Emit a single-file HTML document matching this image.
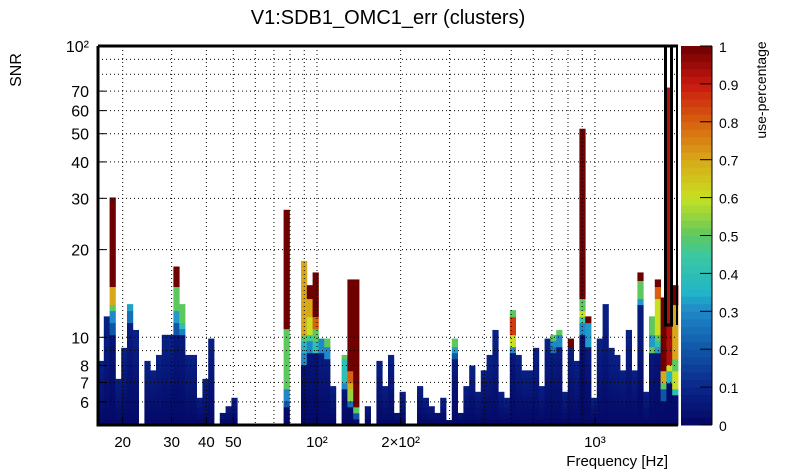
<!DOCTYPE html>
<html><head><meta charset="utf-8">
<style>
html,body{margin:0;padding:0;background:#fff;}
svg{display:block;font-family:"Liberation Sans",sans-serif;}
</style></head>
<body>
<svg id="chart" width="805" height="472" viewBox="0 0 805 472"></svg>
<script>
// ---- data ----
const nFreqBins = 100;
const freqMin = 16.3, freqMax = 1990;
const snrMin = 5, snrMax = 100, nSnrBins = 63;
// max SNR reached per frequency bin (0 = empty)
const columnTops = [8.3,11.8,30.2,7.2,9.2,13,10.6,0,8.3,7.7,8.7,10.2,10.2,17.5,13,8.7,8.7,6.2,7.2,9.9,
0,5.5,5.8,6.2,0,0,0,0,0,0,0,0,27.4,0,0,18.3,15.1,16.7,9.9,9.9,
6.8,0,8.7,15.8,15.8,0,5.8,0,8.3,6.8,8.7,5.5,6.5,0,0,6.8,6.2,5.8,5.5,6.2,
5.2,9.9,5.5,6.8,8.0,6.5,7.7,8.7,10.6,6.5,6.2,12.4,8.7,7.7,7.7,9.2,6.8,9.9,10.2,10.6,
6.5,9.9,8.3,52,11.8,6.2,9.9,13,9.2,8.7,7.7,10.6,7.7,16.7,6.5,11.8,15.8,13.7,72,15.1];
// high use-percentage segments: [bin, snrLow, snrHigh, value]
const segments = [
[2,15.1,30.2,1],[2,13,15.1,0.7],[2,12.4,13,0.5],[2,11.2,12.4,0.3],[2,10,11.2,0.2],
[5,12.2,13,0.33],[5,11,12.2,0.25],
[13,15.1,17.5,1],[13,12.4,15.1,0.5],[13,11.2,12.4,0.32],[13,10,11.2,0.2],
[14,11.2,13,0.5],[14,10.6,11.2,0.4],[14,10,10.6,0.28],
[32,10.6,27.4,1],[32,6.5,10.6,0.5],[32,6.1,6.5,0.3],[32,5.8,6.1,0.2],
[35,10.2,18.3,0.7],[35,9.6,10.2,0.5],[35,8.7,9.6,0.35],[35,8,8.7,0.3],
[36,13.7,15.1,1],[36,11.8,13.7,0.7],[36,10.2,11.8,0.6],[36,9.6,10.2,0.45],[36,8.7,9.6,0.3],
[37,11.8,16.7,1],[37,10.6,11.8,0.8],[37,9.6,10.6,0.5],[37,8.7,9.6,0.4],
[38,8.7,9.9,0.3],
[39,9.4,9.9,0.5],[39,8.3,9.4,0.3],
[42,8.3,8.7,0.5],[42,7,8.3,0.4],[42,6.5,7,0.3],
[43,7.5,15.8,1],[43,6.9,7.5,0.8],[43,6.5,6.9,0.7],[43,6.1,6.5,0.55],[43,5.8,6.1,0.25],
[44,5.9,15.8,1],[44,5.5,5.9,0.5],[44,5.2,5.5,0.2],
[61,9.4,9.9,0.5],[61,9.0,9.4,0.33],[61,8.3,9.0,0.2],
[71,12.0,12.4,0.5],[71,10.4,12.0,0.85],[71,10.0,10.4,0.7],[71,9.4,10.0,0.6],[71,9.0,9.4,0.3],
[78,9.9,10.2,0.5],[78,9.4,9.9,0.3],[78,8.7,9.4,0.25],
[79,10.2,10.6,0.5],[79,9.4,10.2,0.3],
[81,9.4,9.9,1],
[83,13.7,52,1],[83,12.4,13.7,0.5],[83,11.8,12.4,0.6],[83,11.2,11.8,0.45],[83,10,11.2,0.3],
[84,11.2,11.8,1],[84,9.4,11.2,0.32],
[93,15.8,16.7,1],[93,13.7,15.8,0.5],[93,13,13.7,0.32],
[95,10,11.8,0.5],[95,9.4,10,0.32],[95,8.7,9.4,0.5],
[96,15.1,15.8,1],[96,13.7,15.1,0.8],[96,10.4,13.7,0.6],[96,9.9,10.4,0.5],[96,9.4,9.9,0.4],[96,8.7,9.4,0.32],
[97,7.5,13.7,1],[97,7.1,7.5,0.7],[97,6.5,7.1,0.5],[97,6.1,6.5,0.2],
[98,8,72,0.93],[98,7.5,8,0.6],[98,7,7.5,0.35],
[99,13,15.1,1],[99,8.3,13,0.7],[99,7.5,8.3,0.5],[99,6.8,7.5,0.6],[99,6.3,6.8,0.4]
];
const xTickVals = [20,30,40,50,100,200,1000];
const xTickLabels = ["20","30","40","50","10²","2×10²","10³"];
const yTickVals = [6,7,8,10,20,30,40,50,60,70,100];
const yTickLabels = ["6","7","8","10","20","30","40","50","60","70","10²"];
const zTickVals = [0,0.1,0.2,0.3,0.4,0.5,0.6,0.7,0.8,0.9,1];

// ---- layout ----
const L=98,R=678,T=46,B=425;
const svg=document.getElementById('chart');
const NS='http://www.w3.org/2000/svg';
function el(tag,attrs,parent){const e=document.createElementNS(NS,tag);for(const k in attrs)e.setAttribute(k,attrs[k]);(parent||svg).appendChild(e);return e;}
const lx0=Math.log10(freqMin),lx1=Math.log10(freqMax);
function xScale(f){return L+(Math.log10(f)-lx0)/(lx1-lx0)*(R-L);}
function yScale(s){return B-(Math.log10(s)-Math.log10(snrMin))/(Math.log10(snrMax)-Math.log10(snrMin))*(B-T);}
const stops=[[0,[3,6,100]],[0.1,[10,38,138]],[0.2,[15,86,168]],[0.3,[30,136,200]],[0.35,[34,180,200]],[0.45,[60,200,160]],[0.5,[94,200,96]],[0.6,[200,224,32]],[0.7,[216,168,24]],[0.8,[216,96,16]],[0.9,[200,24,16]],[1,[110,0,0]]];
function color(v){v=Math.max(0,Math.min(1,v));for(let i=1;i<stops.length;i++){if(v<=stops[i][0]){const a=stops[i-1],b=stops[i];const t=(v-a[0])/(b[0]-a[0]);const c=a[1].map((x,j)=>Math.round(x+(b[1][j]-x)*t));return `rgb(${c})`;}}return 'rgb(110,0,0)';}

// heatmap cells
const gCells=el('g',{});


const ls0=Math.log10(snrMin),ls1=Math.log10(snrMax);
for(let i=0;i<nFreqBins;i++){
  const top=columnTops[i]; if(!top) continue;
  const f0=Math.pow(10,lx0+(lx1-lx0)*i/nFreqBins), f1=Math.pow(10,lx0+(lx1-lx0)*(i+1)/nFreqBins);
  const x0=xScale(f0), x1=xScale(f1);
  const nb=Math.ceil((Math.log10(top)-ls0)/(ls1-ls0)*nSnrBins);
  for(let j=0;j<nb;j++){
    const s0=Math.pow(10,ls0+(ls1-ls0)*j/nSnrBins);
    let s1=Math.pow(10,ls0+(ls1-ls0)*(j+1)/nSnrBins); if(s1>top) s1=top;
    const sc=Math.sqrt(s0*s1);
    let v=0.01+0.08*(j/Math.max(1,nb));
    for(const sg of segments){if(sg[0]===i&&sc>=sg[1]&&sc<=sg[2]){v=sg[3];}}
    const r=el('rect',{x:x0.toFixed(2),y:yScale(s1).toFixed(2),width:(x1-x0+0.4).toFixed(2),height:(yScale(s0)-yScale(s1)+0.4).toFixed(2),fill:color(v)},gCells);
    
    
  }
}
// gridlines
const gGrid=el('g',{stroke:'#000','stroke-width':1,'stroke-dasharray':'1,3'});


for(const d of [10,100,1000]){for(let m=1;m<10;m++){const f=d*m;if(f<=freqMin||f>=freqMax)continue;const x=xScale(f);el('line',{x1:x,x2:x,y1:T,y2:B},gGrid);}}
for(const d of [1,10]){for(let m=1;m<10;m++){const s=d*m;if(s<=snrMin||s>=snrMax)continue;const y=yScale(s);el('line',{x1:L,x2:R,y1:y,y2:y},gGrid);}}
// ticks
const gTicks=el('g',{stroke:'#000','stroke-width':1});
for(const v of xTickVals){const x=xScale(v);el('line',{x1:x,x2:x,y1:B,y2:B-8},gTicks);}
for(const v of yTickVals){const y=yScale(v);el('line',{x1:L,x2:L+8,y1:y,y2:y},gTicks);}
// frame
const frame=el('path',{d:`M${L} ${T} L${L} ${B} L${R} ${B} M${L} ${T} L665 ${T}`,stroke:'#000','stroke-width':3,fill:'none'});


const hl=el('rect',{x:665.5,y:T,width:6,height:279,stroke:'#000','stroke-width':3,fill:'none'});


el('line',{x1:672,x2:678,y1:T,y2:T,stroke:'#000','stroke-width':3});
el('line',{x1:677,x2:677,y1:T,y2:325,stroke:'#000','stroke-width':2});
// tick labels
xTickVals.forEach((v,k)=>{const t=el('text',{x:xScale(v),y:447,'font-size':15,'text-anchor':'middle'});t.textContent=xTickLabels[k];});
yTickVals.forEach((v,k)=>{const t=el('text',{x:89,y:yScale(v)+6,'font-size':16,'text-anchor':'end'});t.textContent=yTickLabels[k];});
// colorbar
const CL=681,CR=712;
const gBar=el('g',{});


const nSteps=50;
for(let k=0;k<nSteps;k++){const y0=B-(k+1)*(B-T)/nSteps;el('rect',{x:CL,y:y0.toFixed(2),width:CR-CL,height:((B-T)/nSteps+0.5).toFixed(2),fill:color((k+0.5)/nSteps)},gBar);}
el('line',{x1:CR,x2:CR,y1:T,y2:B,stroke:'#000','stroke-width':1},gBar);
zTickVals.forEach(v=>{const y=B-v*(B-T);el('line',{x1:CR-12,x2:CR,y1:y,y2:y,stroke:'#000'},gBar);const t=el('text',{x:719,y:y+6,'font-size':14},gBar);t.textContent=String(v);});
</script>
<div style="position:absolute;left:0;top:0;width:805px;height:472px;pointer-events:none;">
<svg width="805" height="472" style="position:absolute;left:0;top:0;font-family:'Liberation Sans',sans-serif;">
<text x="388" y="24" font-size="20" text-anchor="middle">V1:SDB1_OMC1_err (clusters)</text>
<text x="0" y="0" font-size="16" text-anchor="middle" transform="translate(21,70) rotate(-90)">SNR</text>
<text x="668" y="466" font-size="15" text-anchor="end">Frequency [Hz]</text>
<text x="0" y="0" font-size="14" text-anchor="middle" transform="translate(766,90) rotate(-90)">use-percentage</text>
</svg>
</div>
</body></html>
